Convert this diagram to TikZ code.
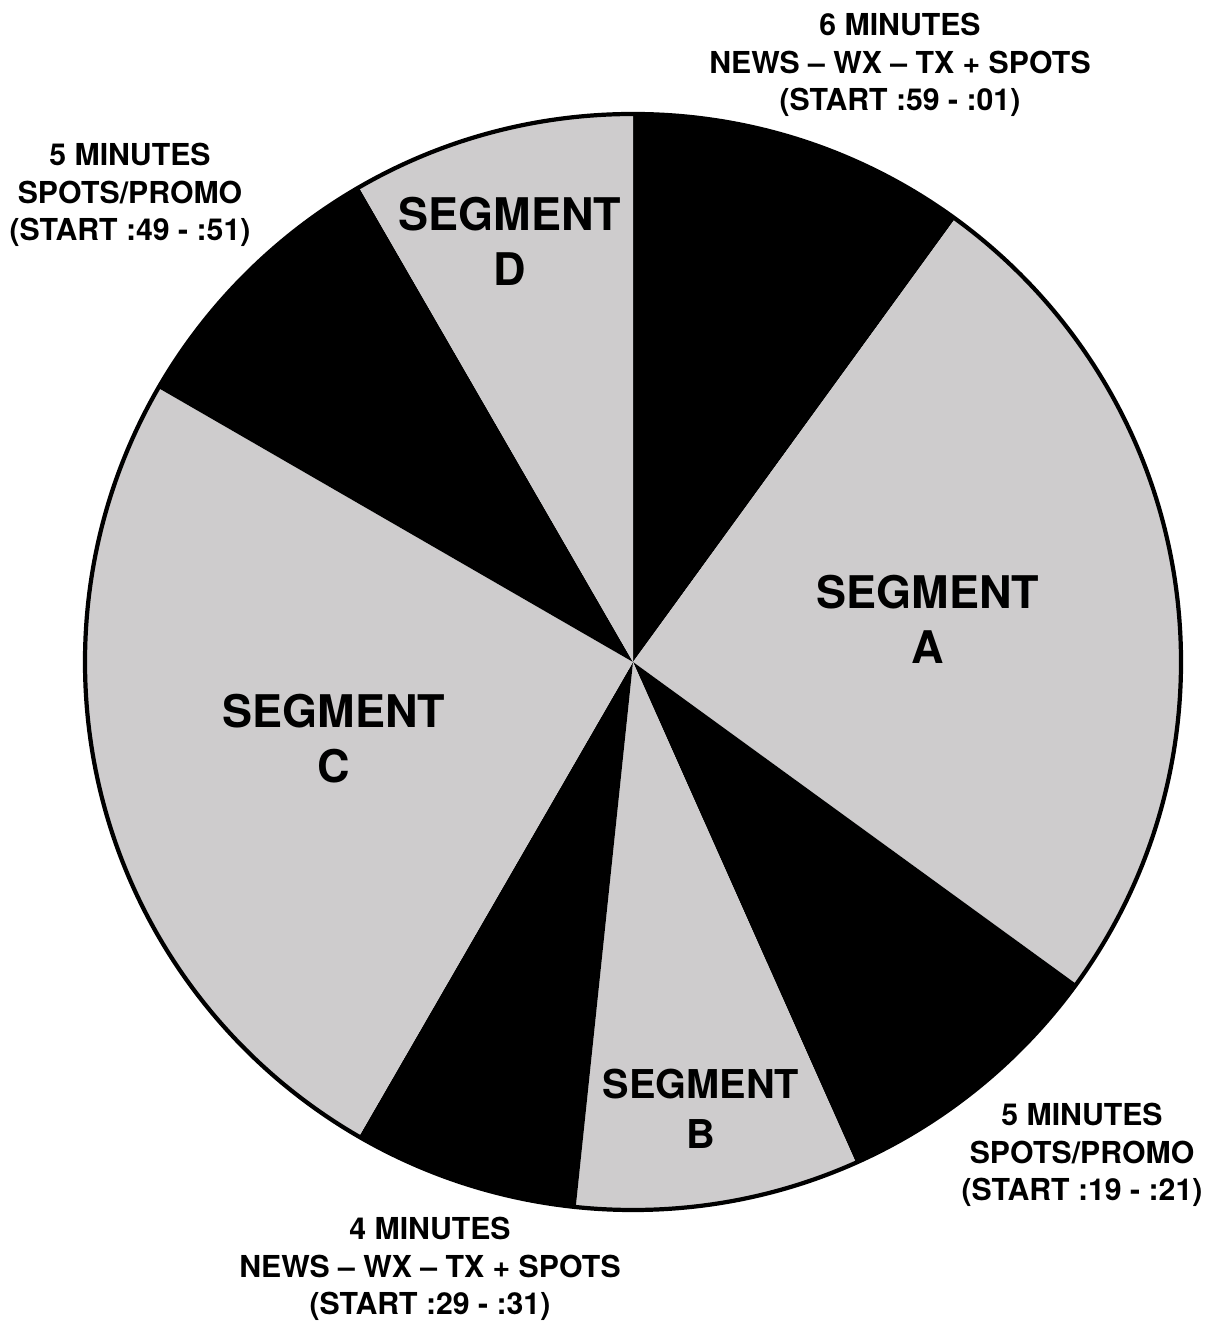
\documentclass[tikz,border=0pt]{standalone}
\usepackage{fontspec}
\setmainfont{TeX Gyre Heros}
\usepackage{tikz}
\usetikzlibrary{positioning, calc}
\definecolor{segGray}{RGB}{206,204,205}
\tikzset{
    etichetta/.style={align=center, font=\bfseries\fontsize{8.6}{10.7}\selectfont, inner sep=0pt},
    segmento/.style={align=center, font=\bfseries\fontsize{12.8}{15.6}\selectfont, inner sep=0pt}
}

\begin{document}
\begin{tikzpicture}[x=0.1mm, y=0.1mm]
    \useasboundingbox (0,0) rectangle (1206,1321);
    \coordinate (O) at (633,659);
    %disegno settori
    \foreach \inizio/\fine/\colore in {90/54/black, 54/-36/segGray, -36/-66/black, -66/-96/segGray, -96/-120/black, -120/-210/segGray, -210/-240/black, -240/-270/segGray}
        \fill[\colore] (O) -- ++(\inizio:548) arc[start angle=\inizio, end angle=\fine, radius=548] -- cycle;
    %bordo
    \draw[line width=1.2pt] (O) circle[radius=548];
    %nomi segmenti
    \node[segmento] (segA) at (928,702) {SEGMENT\\A};
    \node[segmento, font=\bfseries\fontsize{11.3}{14.2}\selectfont] (segB) at (701,212) {SEGMENT\\B};
    \node[segmento] (segC) at (334,582) {SEGMENT\\C};
    \node[segmento] (segD) at (510,1080) {SEGMENT\\D};
    %etichette esterne
    \node[etichetta] (news1) at (900,1256) {6 MINUTES\\NEWS -- WX -- TX + SPOTS\\(START :59 - :01)};
    \node[etichetta] (spot1) at (130,1126) {5 MINUTES\\SPOTS/PROMO\\(START :49 - :51)};
    \node[etichetta] (spot2) at (1082,166) {5 MINUTES\\SPOTS/PROMO\\(START :19 - :21)};
    \node[etichetta] (news2) at (430,52) {4 MINUTES\\NEWS -- WX -- TX + SPOTS\\(START :29 - :31)};
\end{tikzpicture}
\end{document}
